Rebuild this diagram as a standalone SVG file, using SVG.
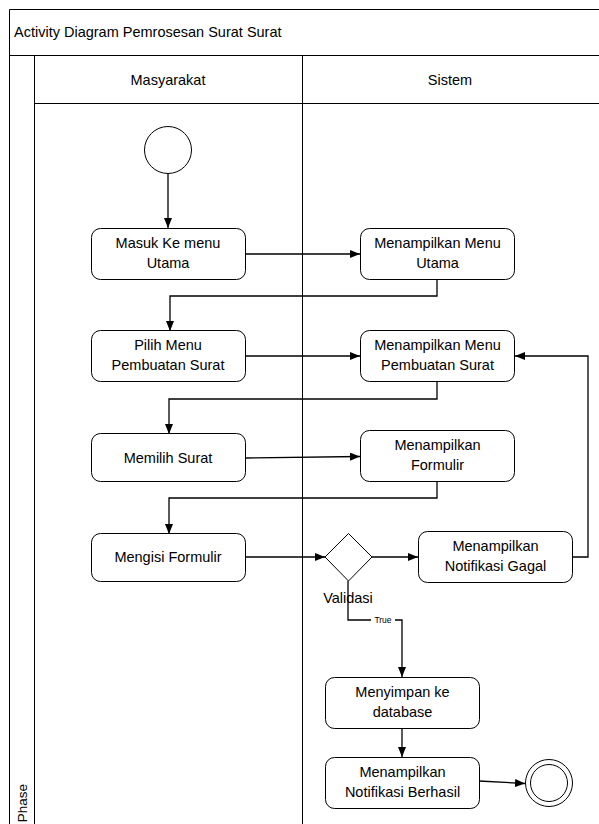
<svg xmlns="http://www.w3.org/2000/svg" width="599" height="824" viewBox="0 0 599 824">
<defs>
<marker id="arr" markerWidth="10" markerHeight="8" refX="10" refY="4" orient="auto" markerUnits="userSpaceOnUse">
<path d="M0,0 L10,4 L0,8 Z" fill="#000"/>
</marker>
<style>
.frame{fill:none;stroke:#000;stroke-width:1}
.box{fill:#fff;stroke:#000;stroke-width:1}
.t{font-family:"Liberation Sans",Arial,sans-serif;font-size:14.5px;fill:#000;text-anchor:middle}
.tl{font-family:"Liberation Sans",Arial,sans-serif;font-size:14.5px;fill:#000}
.c{fill:none;stroke:#000;stroke-width:1.3}
.small{font-family:"Liberation Sans",Arial,sans-serif;font-size:8.5px;fill:#000;text-anchor:middle}
</style>
</defs>
<rect width="599" height="824" fill="#fff"/>
<g id="pool">
<path class="frame" d="M9.5,830 V9.5 H605"/>
<line class="frame" x1="9" y1="55.5" x2="605" y2="55.5"/>
<line class="frame" x1="34.5" y1="55" x2="34.5" y2="830"/>
<line class="frame" x1="34" y1="103.5" x2="605" y2="103.5"/>
<line class="frame" x1="302.5" y1="55" x2="302.5" y2="830"/>
<text class="tl" x="14" y="37">Activity Diagram Pemrosesan Surat Surat</text>
<text class="t" x="168" y="85">Masyarakat</text>
<text class="t" x="450" y="85">Sistem</text>
<text class="t" transform="translate(27,784) rotate(-90)" style="text-anchor:end;font-size:13.5px">Phase</text>
</g>
<g id="connectors">
<line class="c" x1="168" y1="173" x2="168" y2="228" marker-end="url(#arr)"/>
<line class="c" x1="245" y1="254" x2="360" y2="254" marker-end="url(#arr)"/>
<polyline class="c" points="437,279 437,296 170,296 170,331" marker-end="url(#arr)"/>
<line class="c" x1="245" y1="356" x2="360" y2="356" marker-end="url(#arr)"/>
<polyline class="c" points="437,381 437,399 169,399 169,434" marker-end="url(#arr)"/>
<line class="c" x1="245" y1="458" x2="360" y2="456.5" marker-end="url(#arr)"/>
<polyline class="c" points="437,481 437,498 169,498 169,534" marker-end="url(#arr)"/>
<line class="c" x1="245" y1="557" x2="325" y2="557" marker-end="url(#arr)"/>
<line class="c" x1="372" y1="557" x2="418" y2="557" marker-end="url(#arr)"/>
<polyline class="c" points="573,557 588,557 588,356 515,356" marker-end="url(#arr)"/>
<polyline class="c" points="348,581 348,620 402,620 402,677" marker-end="url(#arr)"/>
<rect x="371" y="615" width="24" height="10" fill="#fff"/>
<text class="small" x="383" y="623">True</text>
<line class="c" x1="402" y1="728" x2="402" y2="757" marker-end="url(#arr)"/>
<line class="c" x1="479" y1="781" x2="525" y2="783.5" marker-end="url(#arr)"/>
</g>
<g id="start"><circle class="box" cx="168" cy="150" r="23.5"/></g>
<g id="n1"><rect class="box" x="91.5" y="228.5" width="154" height="51" rx="9"/><text class="t" x="168" y="248">Masuk Ke menu</text><text class="t" x="168" y="268">Utama</text></g>
<g id="n2"><rect class="box" x="360.5" y="228.5" width="154" height="51" rx="9"/><text class="t" x="437.5" y="248">Menampilkan Menu</text><text class="t" x="437.5" y="268">Utama</text></g>
<g id="n3"><rect class="box" x="91.5" y="330.5" width="154" height="51" rx="9"/><text class="t" x="168" y="350">Pilih Menu</text><text class="t" x="168" y="370">Pembuatan Surat</text></g>
<g id="n4"><rect class="box" x="360.5" y="330.5" width="154" height="51" rx="9"/><text class="t" x="437.5" y="350">Menampilkan Menu</text><text class="t" x="437.5" y="370">Pembuatan Surat</text></g>
<g id="n5"><rect class="box" x="91.5" y="433.5" width="154" height="48" rx="9"/><text class="t" x="168" y="463">Memilih Surat</text></g>
<g id="n6"><rect class="box" x="360.5" y="430.5" width="154" height="51" rx="9"/><text class="t" x="437.5" y="450">Menampilkan</text><text class="t" x="437.5" y="470">Formulir</text></g>
<g id="n7"><rect class="box" x="91.5" y="533.5" width="154" height="48" rx="9"/><text class="t" x="168" y="562">Mengisi Formulir</text></g>
<g id="decision"><polygon class="box" points="348.5,533.5 372,557 348.5,581 325,557"/><text class="t" x="348" y="603">Validasi</text></g>
<g id="n8"><rect class="box" x="418.5" y="531.5" width="154" height="51" rx="9"/><text class="t" x="495.5" y="551">Menampilkan</text><text class="t" x="495.5" y="571">Notifikasi Gagal</text></g>
<g id="n9"><rect class="box" x="325.5" y="677.5" width="154" height="51" rx="9"/><text class="t" x="402.5" y="697">Menyimpan ke</text><text class="t" x="402.5" y="717">database</text></g>
<g id="n10"><rect class="box" x="325.5" y="757.5" width="154" height="51" rx="9"/><text class="t" x="402.5" y="777">Menampilkan</text><text class="t" x="402.5" y="797">Notifikasi Berhasil</text></g>
<g id="end"><circle class="box" cx="549" cy="783" r="23.5"/><circle class="box" cx="549" cy="783" r="18.5"/></g>
</svg>
